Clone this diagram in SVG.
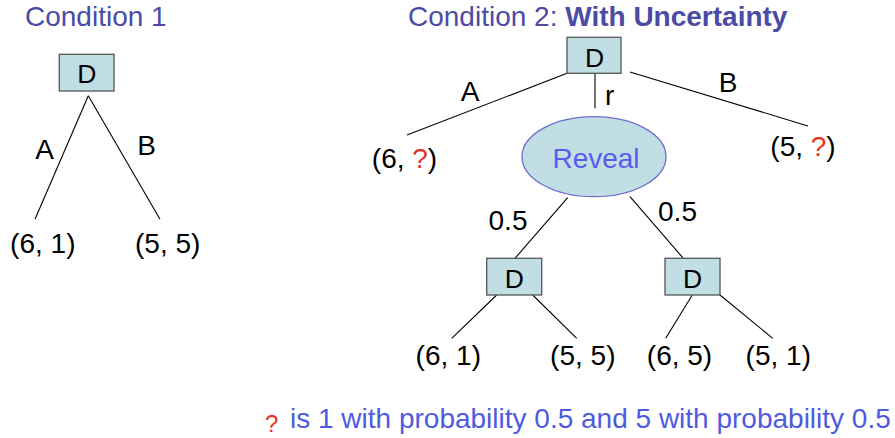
<svg xmlns="http://www.w3.org/2000/svg" width="895" height="438" viewBox="0 0 895 438">
<style>
text{font-family:"Liberation Sans",Arial,sans-serif;}
.title{font-size:28px;fill:#4B4BA6;}
.lbl{font-size:28px;fill:#000;}
.dlbl{font-size:26.5px;fill:#000;text-anchor:middle;}
.mid{text-anchor:middle;}
.q{fill:#E8301C;}
.box{fill:#C0DEE3;stroke:#555;stroke-width:1.3;}
.ell{fill:#C0DEE3;stroke:#6B6BD0;stroke-width:1.3;}
.edge{stroke:#000;stroke-width:1.1;fill:none;}
.legend{font-size:28px;fill:#4F5BDF;}
</style>
<rect width="895" height="438" fill="#fff"/>
<text class="title" x="25" y="26">Condition 1</text>
<text class="title" x="408" y="26">Condition 2: <tspan font-weight="bold">With Uncertainty</tspan></text>

<g id="connectors">
  <line class="edge" x1="88.3" y1="95.7" x2="35" y2="219.3"/>
  <line class="edge" x1="88.3" y1="95.7" x2="160" y2="219.3"/>
  <line class="edge" x1="567" y1="73.3" x2="407" y2="135"/>
  <line class="edge" x1="595" y1="73" x2="595" y2="108.3"/>
  <line class="edge" x1="630" y1="72" x2="808" y2="126"/>
  <line class="edge" x1="567.7" y1="197.7" x2="515" y2="258.3"/>
  <line class="edge" x1="630" y1="196.7" x2="683.3" y2="258.3"/>
  <line class="edge" x1="496.7" y1="295" x2="451.7" y2="338.3"/>
  <line class="edge" x1="532.7" y1="295" x2="576.7" y2="338.3"/>
  <line class="edge" x1="692.3" y1="295" x2="665.7" y2="338.3"/>
  <line class="edge" x1="720" y1="295" x2="772.7" y2="338.3"/>
  <text class="lbl mid" x="44.5" y="158.5">A</text>
  <text class="lbl mid" x="146.5" y="155">B</text>
  <text class="lbl mid" x="470" y="101">A</text>
  <text class="lbl" x="605" y="105">r</text>
  <text class="lbl mid" x="728" y="92">B</text>
  <text class="lbl mid" x="508" y="230">0.5</text>
  <text class="lbl mid" x="677.5" y="220.7">0.5</text>
</g>

<g id="d1">
  <rect class="box" x="59.3" y="54.3" width="54.7" height="36.7"/>
  <text class="dlbl" x="86.7" y="83.3">D</text>
</g>
<g id="leaf1-61">
  <text class="lbl mid" x="42.8" y="252.5">(6, 1)</text>
</g>
<g id="leaf1-55">
  <text class="lbl mid" x="167.7" y="252.5">(5, 5)</text>
</g>

<g id="d2">
  <rect class="box" x="567" y="37.3" width="54" height="36"/>
  <text class="dlbl" x="594.5" y="66.7">D</text>
</g>
<g id="leaf2-a">
  <text class="lbl mid" x="404.5" y="168">(6, <tspan class="q">?</tspan>)</text>
</g>
<g id="leaf2-b">
  <text class="lbl mid" x="803" y="156">(5, <tspan class="q">?</tspan>)</text>
</g>
<g id="reveal">
  <ellipse class="ell" cx="594" cy="156.7" rx="72" ry="40"/>
  <text class="mid" x="596" y="168" font-size="28" fill="#5A5AF0">Reveal</text>
</g>
<g id="d3">
  <rect class="box" x="486.7" y="258.3" width="55" height="36.7"/>
  <text class="dlbl" x="514.2" y="288.3">D</text>
</g>
<g id="d4">
  <rect class="box" x="665" y="258.3" width="55" height="36.7"/>
  <text class="dlbl" x="692.5" y="288.3">D</text>
</g>
<g id="leaf3-61"><text class="lbl mid" x="448.3" y="365">(6, 1)</text></g>
<g id="leaf3-55"><text class="lbl mid" x="582.8" y="365">(5, 5)</text></g>
<g id="leaf4-65"><text class="lbl mid" x="679.5" y="365">(6, 5)</text></g>
<g id="leaf4-51"><text class="lbl mid" x="778.3" y="365">(5, 1)</text></g>

<text x="265" y="432" font-size="24" class="q">?</text>
<text class="legend" x="290" y="428.3">is 1 with probability 0.5 and 5 with probability 0.5</text>
</svg>
